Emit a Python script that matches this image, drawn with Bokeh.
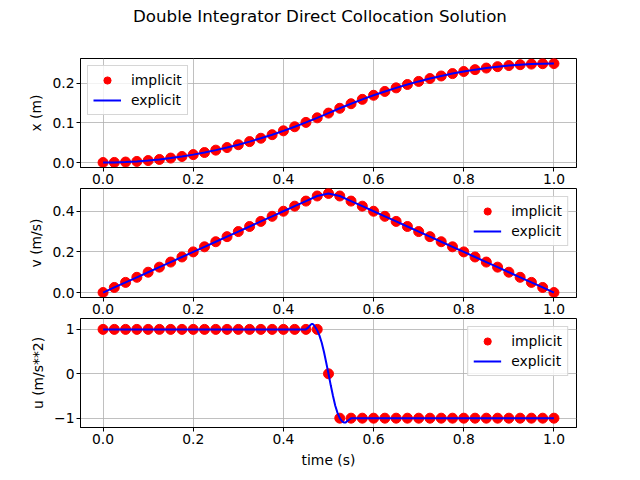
from bokeh.plotting import figure
from bokeh.models import Range1d, FixedTicker, Legend, LegendItem, Div, PrintfTickFormatter
from bokeh.layouts import column
from bokeh.embed import file_html
from bokeh.resources import INLINE

# ---- data ----
t = [0.0, 0.025, 0.05, 0.075, 0.1, 0.125, 0.15, 0.175, 0.2, 0.225,
     0.25, 0.275, 0.3, 0.325, 0.35, 0.375, 0.4, 0.425, 0.45, 0.475,
     0.5, 0.525, 0.55, 0.575, 0.6, 0.625, 0.65, 0.675, 0.7, 0.725,
     0.75, 0.775, 0.8, 0.825, 0.85, 0.875, 0.9, 0.925, 0.95, 0.975, 1.0]

x_pos = [0.0, 0.0003, 0.0013, 0.0028, 0.005, 0.0078, 0.0113, 0.0153, 0.02, 0.0253,
         0.0313, 0.0378, 0.045, 0.0528, 0.0613, 0.0703, 0.08, 0.0903, 0.1013, 0.1128,
         0.1248, 0.1369, 0.1484, 0.1594, 0.1697, 0.1794, 0.1884, 0.1969, 0.2047, 0.2119,
         0.2184, 0.2244, 0.2297, 0.2344, 0.2384, 0.2419, 0.2447, 0.2469, 0.2484, 0.2494, 0.2497]

v_vel = [0.0, 0.025, 0.05, 0.075, 0.1, 0.125, 0.15, 0.175, 0.2, 0.225,
         0.25, 0.275, 0.3, 0.325, 0.35, 0.375, 0.4, 0.425, 0.45, 0.475,
         0.4875, 0.475, 0.45, 0.425, 0.4, 0.375, 0.35, 0.325, 0.3, 0.275,
         0.25, 0.225, 0.2, 0.175, 0.15, 0.125, 0.1, 0.075, 0.05, 0.025, 0.0]

u_ctrl = [1, 1, 1, 1, 1, 1, 1, 1, 1, 1,
          1, 1, 1, 1, 1, 1, 1, 1, 1, 1,
          0, -1, -1, -1, -1, -1, -1, -1, -1, -1,
          -1, -1, -1, -1, -1, -1, -1, -1, -1, -1, -1]

t_u_exp = [0.0, 0.45, 0.455, 0.46, 0.4625, 0.465, 0.4675, 0.47, 0.475, 0.48,
           0.485, 0.49, 0.495, 0.5, 0.505, 0.51, 0.515, 0.52, 0.525, 0.53,
           0.535, 0.5375, 0.54, 0.545, 0.55, 1.0]
u_exp = [1.0, 1.0, 1.04, 1.10, 1.12, 1.12, 1.10, 1.06, 0.98, 0.86,
         0.70, 0.49, 0.25, 0.0, -0.26, -0.50, -0.72, -0.88, -1.0, -1.07,
         -1.10, -1.10, -1.08, -1.04, -1.0, -1.0]

x_ticks = [0.0, 0.2, 0.4, 0.6, 0.8, 1.0]
x_ticks_pos = [0.0, 0.1, 0.2]
v_ticks = [0.0, 0.2, 0.4]
u_ticks = [-1, 0, 1]

TITLE = "Double Integrator Direct Collocation Solution"
FONT = "DejaVu Sans"
FS = "13.89px"
W = 632


def make_fig(height, top, bottom, yr):
    p = figure(width=W, height=height, output_backend="svg", toolbar_location=None,
               x_range=Range1d(-0.05, 1.05), y_range=Range1d(*yr),
               min_border_left=80, min_border_right=56,
               min_border_top=top, min_border_bottom=bottom)
    p.outline_line_color = "black"
    p.outline_line_width = 1
    p.background_fill_color = "white"
    p.border_fill_color = "white"
    for ax in list(p.xaxis) + list(p.yaxis):
        ax.axis_line_color = "black"
        ax.axis_line_width = 1
        ax.major_tick_out = 4
        ax.major_tick_in = 0
        ax.minor_tick_out = 0
        ax.minor_tick_in = 0
        ax.major_tick_line_color = "black"
        ax.major_label_text_font = FONT
        ax.major_label_text_font_size = FS
        ax.major_label_text_color = "black"
        ax.major_label_standoff = 2
        ax.axis_label_text_font = FONT
        ax.axis_label_text_font_size = FS
        ax.axis_label_text_font_style = "normal"
        ax.axis_label_text_color = "black"
        ax.axis_label_standoff = 5
    p.xaxis.ticker = FixedTicker(ticks=x_ticks)
    p.xaxis.formatter = PrintfTickFormatter(format="%.1f")
    p.grid.grid_line_color = "#b0b0b0"
    p.grid.grid_line_width = 0.8
    return p


def add_series(p, ty, yv, te, ye, loc, margin):
    r1 = p.scatter(ty, yv, size=10, color="red", line_color="red")
    r2 = p.line(te, ye, color="blue", line_width=2)
    lg = Legend(items=[LegendItem(label="implicit", renderers=[r1]),
                       LegendItem(label="explicit", renderers=[r2])],
                location=loc)
    lg.margin = margin
    lg.padding = 5
    lg.spacing = 2
    lg.label_height = 18
    lg.glyph_height = 18
    lg.glyph_width = 28
    lg.label_standoff = 10
    lg.label_text_font = FONT
    lg.label_text_font_size = FS
    lg.label_text_color = "black"
    lg.border_line_color = "#cccccc"
    lg.border_line_alpha = 0.8
    lg.background_fill_alpha = 0.8
    p.add_layout(lg)


title_div = Div(text=TITLE, width=W, height=34, margin=0,
                styles={"font-family": FONT, "font-size": "16.67px",
                        "line-height": "34px", "color": "black",
                        "padding-left": "133px", "white-space": "nowrap",
                        "box-sizing": "border-box"})

p1 = make_fig(154, 24, 21, (-0.0125, 0.2625))
p1.yaxis.ticker = FixedTicker(ticks=x_ticks_pos)
p1.yaxis.formatter = PrintfTickFormatter(format="%.1f")
p1.yaxis.axis_label = "x (m)"
add_series(p1, t, x_pos, t, x_pos, "top_left", 7)

p2 = make_fig(130, 0, 21, (-0.0244, 0.5119))
p2.yaxis.ticker = FixedTicker(ticks=v_ticks)
p2.yaxis.formatter = PrintfTickFormatter(format="%.1f")
p2.yaxis.axis_label = "v (m/s)"
add_series(p2, t, v_vel, t, v_vel, "top_right", 8)

p3 = make_fig(154, 0, 45, (-1.21, 1.245))
p3.yaxis.ticker = FixedTicker(ticks=u_ticks)
p3.yaxis.major_label_overrides = {-1: "\u22121", 0: "0", 1: "1"}
p3.yaxis.axis_label = "u (m/s**2)"
p3.xaxis.axis_label = "time (s)"
add_series(p3, t, u_ctrl, t_u_exp, u_exp, "top_right", 8)

layout = column(title_div, p1, p2, p3, spacing=0)
open("out.html", "w").write(file_html(layout, INLINE))
